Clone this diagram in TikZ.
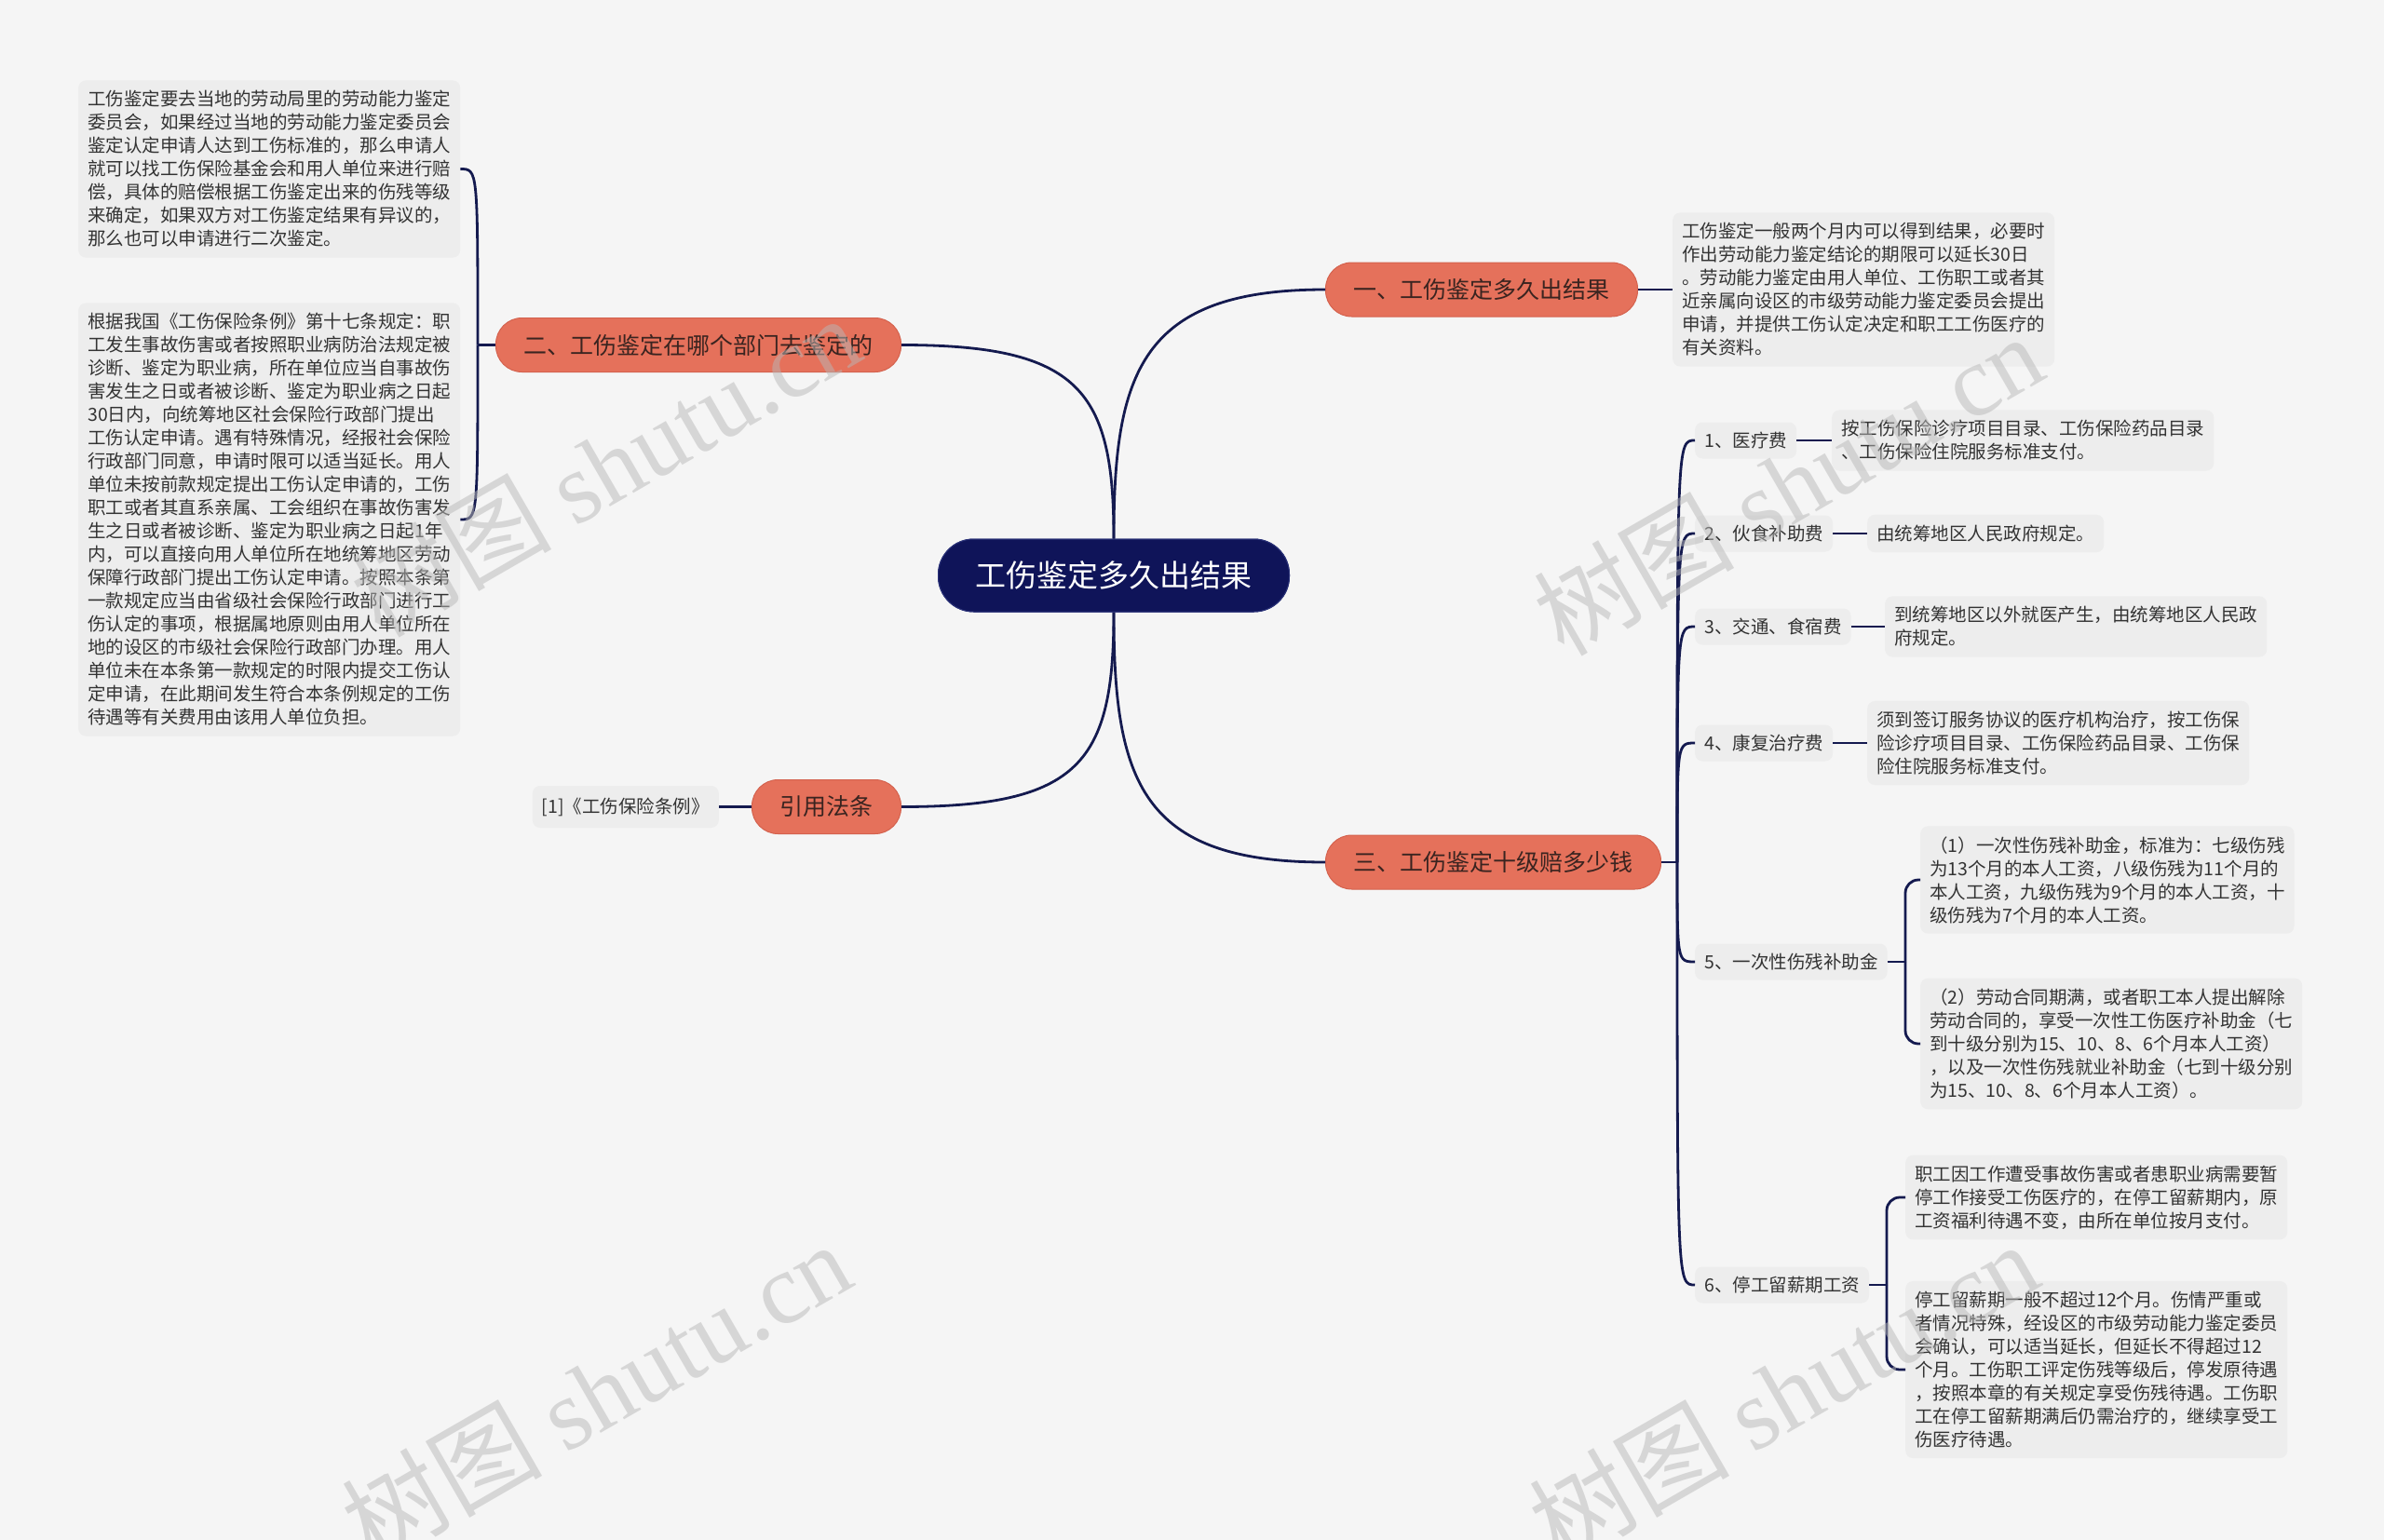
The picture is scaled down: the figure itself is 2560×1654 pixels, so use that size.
\documentclass[tikz,border=0pt]{standalone}
\usepackage{fontspec}
\setmainfont{Noto Sans CJK SC}
\newfontfamily\wmlat{Liberation Serif}
\newfontfamily\wmcjk{Noto Sans CJK SC}
\definecolor{bgc}{HTML}{F5F5F5}
\definecolor{leafc}{HTML}{EDEDED}
\definecolor{txtc}{HTML}{333333}
\definecolor{linec}{HTML}{141A4F}
\definecolor{navy}{HTML}{0F1459}
\definecolor{navyb}{HTML}{2A3278}
\definecolor{orangec}{HTML}{E5715B}
\definecolor{oranged}{HTML}{D4624E}
\definecolor{orangetxt}{HTML}{3A2420}
\definecolor{wmc}{HTML}{B8B8B8}
\begin{document}
\begin{tikzpicture}[x=1pt,y=-1pt,
  conn/.style={draw=linec,line width=2.8pt},
  rootbox/.style={fill=navy,draw=navyb,line width=1pt,rounded corners=38pt,text=white,
    minimum height=78pt,inner xsep=40pt,inner ysep=0pt,font=\fontsize{33}{40}\selectfont},
  topicbox/.style={fill=orangec,draw=oranged,line width=1pt,rounded corners=28pt,text=orangetxt,
    minimum height=58pt,inner xsep=30pt,inner ysep=0pt,font=\fontsize{25}{30}\selectfont},
  leafbox/.style={fill=leafc,rounded corners=8pt,text=txtc,align=left,
    inner xsep=10pt,inner ysep=11pt,font=\fontsize{19.5}{25}\selectfont},
  labelbox/.style={fill=leafc,rounded corners=8pt,text=txtc,
    minimum height=39pt,inner xsep=10pt,inner ysep=0pt,font=\fontsize{19.5}{25}\selectfont},
  wm/.style={text=wmc,opacity=0.5,font=\fontsize{108}{118}\selectfont}]
\useasboundingbox (0,0) rectangle (2560,1654);
\fill[bgc] (0,0) rectangle (2560,1654);

% main topic
\node[rootbox] (c) at (1196,618) {工伤鉴定多久出结果};
% topics
\node[topicbox,anchor=west] (n1) at (1423,311) {一、工伤鉴定多久出结果};
\node[topicbox,anchor=east] (n2) at (968,370.5) {二、工伤鉴定在哪个部门去鉴定的};
\node[topicbox,anchor=west] (n3) at (1423,926) {三、工伤鉴定十级赔多少钱};
\node[topicbox,anchor=east] (n4) at (968,866.5) {引用法条};

% branch 1
\node[leafbox,anchor=west] (l1) at (1796,311) {工伤鉴定一般两个月内可以得到结果，必要时\\作出劳动能力鉴定结论的期限可以延长30日\\。劳动能力鉴定由用人单位、工伤职工或者其\\近亲属向设区的市级劳动能力鉴定委员会提出\\申请，并提供工伤认定决定和职工工伤医疗的\\有关资料。};

% branch 2
\node[leafbox,anchor=west] (l2a) at (84,181.5) {工伤鉴定要去当地的劳动局里的劳动能力鉴定\\委员会，如果经过当地的劳动能力鉴定委员会\\鉴定认定申请人达到工伤标准的，那么申请人\\就可以找工伤保险基金会和用人单位来进行赔\\偿，具体的赔偿根据工伤鉴定出来的伤残等级\\来确定，如果双方对工伤鉴定结果有异议的，\\那么也可以申请进行二次鉴定。};
\node[leafbox,anchor=west] (l2b) at (84,558) {根据我国《工伤保险条例》第十七条规定：职\\工发生事故伤害或者按照职业病防治法规定被\\诊断、鉴定为职业病，所在单位应当自事故伤\\害发生之日或者被诊断、鉴定为职业病之日起\\30日内，向统筹地区社会保险行政部门提出\\工伤认定申请。遇有特殊情况，经报社会保险\\行政部门同意，申请时限可以适当延长。用人\\单位未按前款规定提出工伤认定申请的，工伤\\职工或者其直系亲属、工会组织在事故伤害发\\生之日或者被诊断、鉴定为职业病之日起1年\\内，可以直接向用人单位所在地统筹地区劳动\\保障行政部门提出工伤认定申请。按照本条第\\一款规定应当由省级社会保险行政部门进行工\\伤认定的事项，根据属地原则由用人单位所在\\地的设区的市级社会保险行政部门办理。用人\\单位未在本条第一款规定的时限内提交工伤认\\定申请，在此期间发生符合本条例规定的工伤\\待遇等有关费用由该用人单位负担。};

% branch 4
\node[leafbox,anchor=east,inner ysep=0pt,minimum height=45pt] (l4) at (772,866.5) {[1]《工伤保险条例》};

% branch 3 labels
\node[labelbox,anchor=west] (b1) at (1820,473) {1、医疗费};
\node[labelbox,anchor=west] (b2) at (1820,573) {2、伙食补助费};
\node[labelbox,anchor=west] (b3) at (1820,673) {3、交通、食宿费};
\node[labelbox,anchor=west] (b4) at (1820,798) {4、康复治疗费};
\node[labelbox,anchor=west] (b5) at (1820,1033) {5、一次性伤残补助金};
\node[labelbox,anchor=west] (b6) at (1820,1380) {6、停工留薪期工资};

\node[leafbox,anchor=west] (t1) at (1967,473) {按工伤保险诊疗项目目录、工伤保险药品目录\\、工伤保险住院服务标准支付。};
\node[leafbox,anchor=west] (t2) at (2005,573) {由统筹地区人民政府规定。};
\node[leafbox,anchor=west] (t3) at (2024,673) {到统筹地区以外就医产生，由统筹地区人民政\\府规定。};
\node[leafbox,anchor=west] (t4) at (2005,798) {须到签订服务协议的医疗机构治疗，按工伤保\\险诊疗项目目录、工伤保险药品目录、工伤保\\险住院服务标准支付。};
\node[leafbox,anchor=west] (t51) at (2062,945) {（1）一次性伤残补助金，标准为：七级伤残\\为13个月的本人工资，八级伤残为11个月的\\本人工资，九级伤残为9个月的本人工资，十\\级伤残为7个月的本人工资。};
\node[leafbox,anchor=west] (t52) at (2062,1121) {（2）劳动合同期满，或者职工本人提出解除\\劳动合同的，享受一次性工伤医疗补助金（七\\到十级分别为15、10、8、6个月本人工资）\\，以及一次性伤残就业补助金（七到十级分别\\为15、10、8、6个月本人工资）。};
\node[leafbox,anchor=west] (t61) at (2046,1286) {职工因工作遭受事故伤害或者患职业病需要暂\\停工作接受工伤医疗的，在停工留薪期内，原\\工资福利待遇不变，由所在单位按月支付。};
\node[leafbox,anchor=west] (t62) at (2046,1471) {停工留薪期一般不超过12个月。伤情严重或\\者情况特殊，经设区的市级劳动能力鉴定委员\\会确认，可以适当延长，但延长不得超过12\\个月。工伤职工评定伤残等级后，停发原待遇\\，按照本章的有关规定享受伤残待遇。工伤职\\工在停工留薪期满后仍需治疗的，继续享受工\\伤医疗待遇。};

% joints
\coordinate (s2) at (513,370.5);
\coordinate (s3) at (1801,926);
\coordinate (s5) at (2046,1033);
\coordinate (s6) at (2026,1380);

% connectors from root
\draw[conn] (c.north) .. controls (1196,400) and (1225,311) .. (n1.west);
\draw[conn] (c.north) .. controls (1196,420) and (1160,370.5) .. (n2.east);
\draw[conn] (c.south) .. controls (1196,839) and (1225,926) .. (n3.west);
\draw[conn] (c.south) .. controls (1196,819) and (1160,866.5) .. (n4.east);
\node[rootbox] at (c) {工伤鉴定多久出结果};

% branch 1
\draw[conn] (n1.east) -- (l1.west);
% branch 2
\draw[conn] (n2.west) -- (s2);
\draw[conn] (s2) .. controls (513,181.5) .. (l2a.east);
\draw[conn] (s2) .. controls (513,558) .. (l2b.east);
% branch 4
\draw[conn] (n4.west) -- (l4.east);
% branch 3
\draw[conn] (n3.east) -- (s3);
\foreach \b in {b1,b2,b3,b4,b5,b6}{
  \draw[conn] (s3) .. controls (s3 |- \b.west) .. (\b.west);
}
\draw[conn] (b1.east) -- (t1.west);
\draw[conn] (b2.east) -- (t2.west);
\draw[conn] (b3.east) -- (t3.west);
\draw[conn] (b4.east) -- (t4.west);
\draw[conn] (b5.east) -- (s5);
\draw[conn,rounded corners=14pt] (s5) |- (t51.west);
\draw[conn,rounded corners=14pt] (s5) |- (t52.west);
\draw[conn] (b6.east) -- (s6);
\draw[conn,rounded corners=14pt] (s6) |- (t61.west);
\draw[conn,rounded corners=14pt] (s6) |- (t62.west);

% watermarks
\node[wm,rotate=30] (w1) at (650,500) {\wmcjk 树图 \wmlat shutu.cn};
\node[wm,rotate=30] (w2) at (1920,520) {\wmcjk 树图 \wmlat shutu.cn};
\node[wm,rotate=30] (w3) at (640,1495) {\wmcjk 树图 \wmlat shutu.cn};
\node[wm,rotate=30] (w4) at (1915,1495) {\wmcjk 树图 \wmlat shutu.cn};
\end{tikzpicture}
\end{document}
